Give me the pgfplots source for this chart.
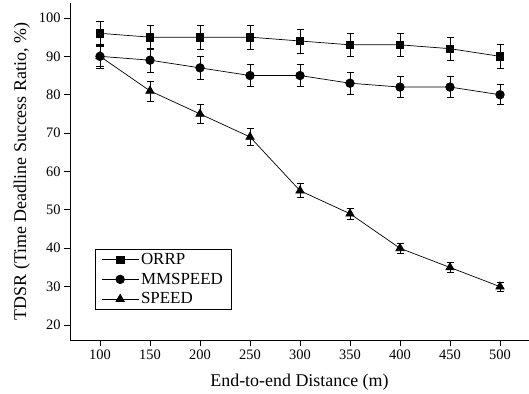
\documentclass[border=0pt]{standalone}
\usepackage{pgfplots}
\pgfplotsset{compat=1.18}
\usepackage{fontspec}
\setmainfont{Liberation Serif}
\begin{document}
\begin{tikzpicture}
\useasboundingbox (-70bp,-54bp) rectangle (459bp,340bp);
\begin{axis}[
  at={(0,0)}, anchor=south west,
  scale only axis, width=459bp, height=337bp,
  xmin=70, xmax=529, ymin=16.1, ymax=103.9,
  axis x line*=bottom, axis y line*=left,
  xtick={100,150,...,500}, ytick={20,30,...,100},
  tick align=outside, major tick length=6bp,
  tick style={black, line width=0.8pt},
  axis line style={line width=0.8pt},
  /pgf/number format/assume math mode=true,
  ticklabel style={font=\fontsize{14.5}{16}\selectfont},
  xlabel={End-to-end Distance (m)},
  ylabel={TDSR (Time Deadline Success Ratio, \%)},
  label style={font=\fontsize{18}{20}\selectfont},
  xlabel style={yshift=-8bp},
  ylabel style={yshift=2bp},
  legend style={at={(axis cs:95,39.8)}, anchor=north west,
    draw=black, line width=0.7pt, font=\fontsize{17}{19}\selectfont,
    row sep=3pt, inner xsep=6pt, inner ysep=2pt},
  legend cell align=left,
  legend image code/.code={\draw[mark repeat=2,mark phase=2]
    plot coordinates {(0bp,0bp) (18.5bp,0bp) (37bp,0bp)};},
  error bars/error bar style={black, line width=0.7pt},
  error bars/error mark options={rotate=90, mark size=3.5bp, line width=0.7pt},
]
\addplot[black, line width=0.7pt, mark=square*, mark size=3.7bp, mark options={fill=black, solid},
  error bars/.cd, y dir=both, y explicit]
  coordinates {(100,96) +- (0,3.1) (150,95) +- (0,3.1) (200,95) +- (0,3.1)
  (250,95) +- (0,3.1) (300,94) +- (0,3.1) (350,93) +- (0,3.1)
  (400,93) +- (0,3.1) (450,92) +- (0,3.0) (500,90) +- (0,3.0)};
\addlegendentry{ORRP}
\addplot[black, line width=0.7pt, mark=*, mark size=4.3bp, mark options={fill=black, solid},
  error bars/.cd, y dir=both, y explicit]
  coordinates {(100,90) +- (0,3.0) (150,89) +- (0,3.2) (200,87) +- (0,3.0)
  (250,85) +- (0,2.8) (300,85) +- (0,2.8) (350,83) +- (0,2.8)
  (400,82) +- (0,2.7) (450,82) +- (0,2.7) (500,80) +- (0,2.6)};
\addlegendentry{MMSPEED}
\addplot[black, line width=0.7pt, mark=triangle*, mark size=4.8bp, mark options={fill=black, solid},
  error bars/.cd, y dir=both, y explicit]
  coordinates {(100,90) +- (0,2.6) (150,81) +- (0,2.6) (200,75) +- (0,2.5)
  (250,69) +- (0,2.2) (300,55) +- (0,1.8) (350,49) +- (0,1.5)
  (400,40) +- (0,1.4) (450,35) +- (0,1.3) (500,30) +- (0,1.2)};
\addlegendentry{SPEED}
\end{axis}
\end{tikzpicture}
\end{document}
